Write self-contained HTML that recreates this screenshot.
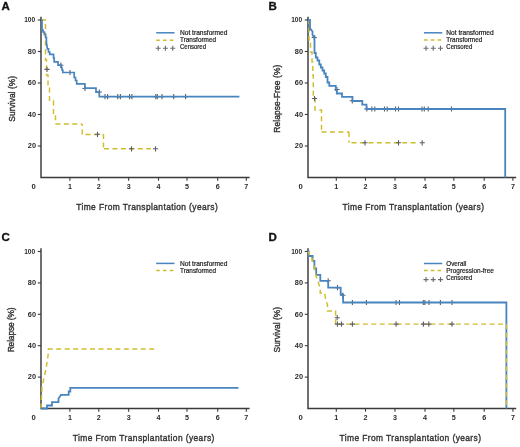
<!DOCTYPE html>
<html><head><meta charset="utf-8"><style>
html,body{margin:0;padding:0;background:#fff;width:520px;height:447px;overflow:hidden;}
svg{display:block;font-family:"Liberation Sans", sans-serif;will-change:transform;filter:blur(0.35px);}
</style></head><body>
<svg width="520" height="447" viewBox="0 0 520 447" font-family='"Liberation Sans", sans-serif'>
<rect width="520" height="447" fill="#fff"/>
<text transform="translate(1.5,10.2) scale(1.12,1)" font-size="10.3" font-weight="bold" fill="#111" stroke="#111" stroke-width="0.3">A</text>
<text transform="translate(268.6,10.2) scale(1.12,1)" font-size="10.3" font-weight="bold" fill="#111" stroke="#111" stroke-width="0.3">B</text>
<text transform="translate(1.5,241.3) scale(1.12,1)" font-size="10.3" font-weight="bold" fill="#111" stroke="#111" stroke-width="0.3">C</text>
<text transform="translate(268.6,241.3) scale(1.12,1)" font-size="10.3" font-weight="bold" fill="#111" stroke="#111" stroke-width="0.3">D</text>
<path d="M41,16.7V177.5H249.60" stroke="#3a3a3a" stroke-width="1.45" fill="none"/>
<path d="M37.8,146.00H41" stroke="#3a3a3a" stroke-width="1.1"/>
<text x="36.0" y="148.3" font-size="6.6" text-anchor="end" font-weight="bold" fill="#2a2a2a" textLength="8.2" lengthAdjust="spacingAndGlyphs" >20</text>
<path d="M37.8,114.50H41" stroke="#3a3a3a" stroke-width="1.1"/>
<text x="36.0" y="116.8" font-size="6.6" text-anchor="end" font-weight="bold" fill="#2a2a2a" textLength="8.2" lengthAdjust="spacingAndGlyphs" >40</text>
<path d="M37.8,83.00H41" stroke="#3a3a3a" stroke-width="1.1"/>
<text x="36.0" y="85.3" font-size="6.6" text-anchor="end" font-weight="bold" fill="#2a2a2a" textLength="8.2" lengthAdjust="spacingAndGlyphs" >60</text>
<path d="M37.8,51.50H41" stroke="#3a3a3a" stroke-width="1.1"/>
<text x="36.0" y="53.8" font-size="6.6" text-anchor="end" font-weight="bold" fill="#2a2a2a" textLength="8.2" lengthAdjust="spacingAndGlyphs" >80</text>
<path d="M37.8,20.00H41" stroke="#3a3a3a" stroke-width="1.1"/>
<text x="35.2" y="22.3" font-size="6.6" text-anchor="end" font-weight="bold" fill="#2a2a2a" textLength="11.0" lengthAdjust="spacingAndGlyphs" >100</text>
<path d="M69.90,177.5V180.7" stroke="#3a3a3a" stroke-width="1.1"/>
<text transform="translate(69.90,188.5) scale(1.12,1)" font-size="6.4" text-anchor="middle" font-weight="bold" fill="#2a2a2a">1</text>
<path d="M98.75,177.5V180.7" stroke="#3a3a3a" stroke-width="1.1"/>
<text transform="translate(98.75,188.5) scale(1.12,1)" font-size="6.4" text-anchor="middle" font-weight="bold" fill="#2a2a2a">2</text>
<path d="M128.65,177.5V180.7" stroke="#3a3a3a" stroke-width="1.1"/>
<text transform="translate(128.65,188.5) scale(1.12,1)" font-size="6.4" text-anchor="middle" font-weight="bold" fill="#2a2a2a">3</text>
<path d="M158.50,177.5V180.7" stroke="#3a3a3a" stroke-width="1.1"/>
<text transform="translate(158.50,188.5) scale(1.12,1)" font-size="6.4" text-anchor="middle" font-weight="bold" fill="#2a2a2a">4</text>
<path d="M187.00,177.5V180.7" stroke="#3a3a3a" stroke-width="1.1"/>
<text transform="translate(187.00,188.5) scale(1.12,1)" font-size="6.4" text-anchor="middle" font-weight="bold" fill="#2a2a2a">5</text>
<path d="M217.70,177.5V180.7" stroke="#3a3a3a" stroke-width="1.1"/>
<text transform="translate(217.70,188.5) scale(1.12,1)" font-size="6.4" text-anchor="middle" font-weight="bold" fill="#2a2a2a">6</text>
<path d="M246.30,177.5V180.7" stroke="#3a3a3a" stroke-width="1.1"/>
<text transform="translate(246.30,188.5) scale(1.12,1)" font-size="6.4" text-anchor="middle" font-weight="bold" fill="#2a2a2a">7</text>
<text transform="translate(33.50,188.5) scale(1.2,1)" font-size="6.4" text-anchor="middle" font-weight="bold" fill="#2a2a2a">0</text>
<text transform="translate(15.0,98.8) rotate(-90) scale(0.86,1)" x="0" y="0" font-size="9.8" text-anchor="middle" fill="#333" stroke="#333" stroke-width="0.4" textLength="53.14" lengthAdjust="spacing">Survival (%)</text>
<text transform="translate(76.2,210.3) scale(0.86,1)" font-size="9.8" fill="#333" stroke="#333" stroke-width="0.4" textLength="164.53" lengthAdjust="spacing">Time From Transplantation (years)</text>
<path d="M41,20H45.5V60H46.5V75H48V86H49.5V101H53.5V114H55.5V124" stroke="#d0bd2c" stroke-width="1.45" fill="none" stroke-dasharray="5,3.45" stroke-dashoffset="0.00"/>
<path d="M55.5,124H82.2" stroke="#d0bd2c" stroke-width="1.45" fill="none" stroke-dasharray="5,3.45" stroke-dashoffset="0.10"/>
<path d="M82.2,124V134.5" stroke="#d0bd2c" stroke-width="1.45" fill="none" stroke-dasharray="5,3.45" stroke-dashoffset="2.95"/>
<path d="M82.2,134.5H103.5" stroke="#d0bd2c" stroke-width="1.45" fill="none" stroke-dasharray="5,3.45" stroke-dashoffset="5.15"/>
<path d="M103.5,134.5V148.8" stroke="#d0bd2c" stroke-width="1.45" fill="none" stroke-dasharray="5,3.45" stroke-dashoffset="0.50"/>
<path d="M103.5,148.8H151" stroke="#d0bd2c" stroke-width="1.45" fill="none" stroke-dasharray="5,3.45" stroke-dashoffset="7.95"/>
<path d="M58.30,65.20H63.50M60.90,62.60V67.80" stroke="#5e5e66" stroke-width="1.1" fill="none"/>
<path d="M67.40,72.50H72.60M70.00,69.90V75.10" stroke="#5e5e66" stroke-width="1.1" fill="none"/>
<path d="M82.40,88.50H87.60M85.00,85.90V91.10" stroke="#5e5e66" stroke-width="1.1" fill="none"/>
<path d="M96.70,92.00H101.90M99.30,89.40V94.60" stroke="#5e5e66" stroke-width="1.1" fill="none"/>
<path d="M102.40,96.70H107.60M105.00,94.10V99.30" stroke="#5e5e66" stroke-width="1.1" fill="none"/>
<path d="M105.00,96.70H110.20M107.60,94.10V99.30" stroke="#5e5e66" stroke-width="1.1" fill="none"/>
<path d="M115.20,96.70H120.40M117.80,94.10V99.30" stroke="#5e5e66" stroke-width="1.1" fill="none"/>
<path d="M117.80,96.70H123.00M120.40,94.10V99.30" stroke="#5e5e66" stroke-width="1.1" fill="none"/>
<path d="M127.00,96.70H132.20M129.60,94.10V99.30" stroke="#5e5e66" stroke-width="1.1" fill="none"/>
<path d="M129.30,96.70H134.50M131.90,94.10V99.30" stroke="#5e5e66" stroke-width="1.1" fill="none"/>
<path d="M153.20,96.70H158.40M155.80,94.10V99.30" stroke="#5e5e66" stroke-width="1.1" fill="none"/>
<path d="M154.70,96.70H159.90M157.30,94.10V99.30" stroke="#5e5e66" stroke-width="1.1" fill="none"/>
<path d="M159.40,96.70H164.60M162.00,94.10V99.30" stroke="#5e5e66" stroke-width="1.1" fill="none"/>
<path d="M171.10,96.70H176.30M173.70,94.10V99.30" stroke="#5e5e66" stroke-width="1.1" fill="none"/>
<path d="M183.00,96.70H188.20M185.60,94.10V99.30" stroke="#5e5e66" stroke-width="1.1" fill="none"/>
<path d="M41,20H42V30H43V32H44.3V34.5H45.6V37.5H46.4V42L47.4,48.8H48.5V52H49.7V54.4H53.6V58H54.2V61.9H58V65.1H61.1V67.5H62V70H62.8V72.5H74.2V77.5H75.5V80.5H76.7V83.8H84.9V88.1H96V92.1H99.3V96.7H239.4" stroke="#4884be" stroke-width="1.7" fill="none"/>
<path d="M44.40,69.40H49.60M47.00,66.80V72.00" stroke="#5e5e66" stroke-width="1.1" fill="none"/>
<path d="M94.90,134.30H100.10M97.50,131.70V136.90" stroke="#5e5e66" stroke-width="1.1" fill="none"/>
<path d="M128.90,148.80H134.10M131.50,146.20V151.40" stroke="#5e5e66" stroke-width="1.1" fill="none"/>
<path d="M152.90,148.80H158.10M155.50,146.20V151.40" stroke="#5e5e66" stroke-width="1.1" fill="none"/>
<path d="M156.2,32.8H174.5" stroke="#4884be" stroke-width="1.5"/>
<text x="180.0" y="34.599999999999994" font-size="6.6" text-anchor="start" font-weight="normal" fill="#222" textLength="47.4" lengthAdjust="spacingAndGlyphs" stroke="#222" stroke-width="0.2">Not transformed</text>
<path d="M156.2,40.3H174.5" stroke="#d0bd2c" stroke-width="1.5" stroke-dasharray="3.6,3.2"/>
<text x="180.0" y="41.9" font-size="6.6" text-anchor="start" font-weight="normal" fill="#222" textLength="36" lengthAdjust="spacingAndGlyphs" stroke="#222" stroke-width="0.2">Transformed</text>
<path d="M155.70,48.20H160.70M158.20,45.70V50.70" stroke="#6a6a72" stroke-width="1.1" fill="none"/>
<path d="M162.90,48.20H167.90M165.40,45.70V50.70" stroke="#6a6a72" stroke-width="1.1" fill="none"/>
<path d="M170.20,48.20H175.20M172.70,45.70V50.70" stroke="#6a6a72" stroke-width="1.1" fill="none"/>
<text x="180.0" y="48.8" font-size="6.6" text-anchor="start" font-weight="normal" fill="#222" textLength="26" lengthAdjust="spacingAndGlyphs" stroke="#222" stroke-width="0.2">Censored</text>
<path d="M308,16.7V177.5H516.20" stroke="#3a3a3a" stroke-width="1.45" fill="none"/>
<path d="M304.8,146.00H308" stroke="#3a3a3a" stroke-width="1.1"/>
<text x="303.0" y="148.3" font-size="6.6" text-anchor="end" font-weight="bold" fill="#2a2a2a" textLength="8.2" lengthAdjust="spacingAndGlyphs" >20</text>
<path d="M304.8,114.50H308" stroke="#3a3a3a" stroke-width="1.1"/>
<text x="303.0" y="116.8" font-size="6.6" text-anchor="end" font-weight="bold" fill="#2a2a2a" textLength="8.2" lengthAdjust="spacingAndGlyphs" >40</text>
<path d="M304.8,83.00H308" stroke="#3a3a3a" stroke-width="1.1"/>
<text x="303.0" y="85.3" font-size="6.6" text-anchor="end" font-weight="bold" fill="#2a2a2a" textLength="8.2" lengthAdjust="spacingAndGlyphs" >60</text>
<path d="M304.8,51.50H308" stroke="#3a3a3a" stroke-width="1.1"/>
<text x="303.0" y="53.8" font-size="6.6" text-anchor="end" font-weight="bold" fill="#2a2a2a" textLength="8.2" lengthAdjust="spacingAndGlyphs" >80</text>
<path d="M304.8,20.00H308" stroke="#3a3a3a" stroke-width="1.1"/>
<text x="302.2" y="22.3" font-size="6.6" text-anchor="end" font-weight="bold" fill="#2a2a2a" textLength="11.0" lengthAdjust="spacingAndGlyphs" >100</text>
<path d="M336.30,177.5V180.7" stroke="#3a3a3a" stroke-width="1.1"/>
<text transform="translate(336.30,188.5) scale(1.12,1)" font-size="6.4" text-anchor="middle" font-weight="bold" fill="#2a2a2a">1</text>
<path d="M365.50,177.5V180.7" stroke="#3a3a3a" stroke-width="1.1"/>
<text transform="translate(365.50,188.5) scale(1.12,1)" font-size="6.4" text-anchor="middle" font-weight="bold" fill="#2a2a2a">2</text>
<path d="M395.00,177.5V180.7" stroke="#3a3a3a" stroke-width="1.1"/>
<text transform="translate(395.00,188.5) scale(1.12,1)" font-size="6.4" text-anchor="middle" font-weight="bold" fill="#2a2a2a">3</text>
<path d="M425.00,177.5V180.7" stroke="#3a3a3a" stroke-width="1.1"/>
<text transform="translate(425.00,188.5) scale(1.12,1)" font-size="6.4" text-anchor="middle" font-weight="bold" fill="#2a2a2a">4</text>
<path d="M453.85,177.5V180.7" stroke="#3a3a3a" stroke-width="1.1"/>
<text transform="translate(453.85,188.5) scale(1.12,1)" font-size="6.4" text-anchor="middle" font-weight="bold" fill="#2a2a2a">5</text>
<path d="M484.20,177.5V180.7" stroke="#3a3a3a" stroke-width="1.1"/>
<text transform="translate(484.20,188.5) scale(1.12,1)" font-size="6.4" text-anchor="middle" font-weight="bold" fill="#2a2a2a">6</text>
<path d="M512.90,177.5V180.7" stroke="#3a3a3a" stroke-width="1.1"/>
<text transform="translate(512.90,188.5) scale(1.12,1)" font-size="6.4" text-anchor="middle" font-weight="bold" fill="#2a2a2a">7</text>
<text transform="translate(300.50,188.5) scale(1.2,1)" font-size="6.4" text-anchor="middle" font-weight="bold" fill="#2a2a2a">0</text>
<text transform="translate(279.5,98.7) rotate(-90) scale(0.86,1)" x="0" y="0" font-size="9.8" text-anchor="middle" fill="#333" stroke="#333" stroke-width="0.4" textLength="79.07" lengthAdjust="spacing">Relapse-Free (%)</text>
<text transform="translate(342.5,210.1) scale(0.86,1)" font-size="9.8" fill="#333" stroke="#333" stroke-width="0.4" textLength="164.53" lengthAdjust="spacing">Time From Transplantation (years)</text>
<path d="M308,20H309V40H310.5V52H312V62H312.8V75H313.3V98H315V110H321.5V132" stroke="#d0bd2c" stroke-width="1.45" fill="none" stroke-dasharray="5,3.45" stroke-dashoffset="0.00"/>
<path d="M321.5,132H349" stroke="#d0bd2c" stroke-width="1.45" fill="none" stroke-dasharray="5,3.45" stroke-dashoffset="0.00"/>
<path d="M349,132V142.8" stroke="#d0bd2c" stroke-width="1.45" fill="none" stroke-dasharray="5,3.45" stroke-dashoffset="0.00"/>
<path d="M349,142.8H417" stroke="#d0bd2c" stroke-width="1.45" fill="none" stroke-dasharray="5,3.45" stroke-dashoffset="5.95"/>
<path d="M311.70,37.50H316.90M314.30,34.90V40.10" stroke="#5e5e66" stroke-width="1.1" fill="none"/>
<path d="M334.40,89.50H339.60M337.00,86.90V92.10" stroke="#5e5e66" stroke-width="1.1" fill="none"/>
<path d="M349.70,100.80H354.90M352.30,98.20V103.40" stroke="#5e5e66" stroke-width="1.1" fill="none"/>
<path d="M364.20,109.00H369.40M366.80,106.40V111.60" stroke="#5e5e66" stroke-width="1.1" fill="none"/>
<path d="M369.20,109.00H374.40M371.80,106.40V111.60" stroke="#5e5e66" stroke-width="1.1" fill="none"/>
<path d="M372.20,109.00H377.40M374.80,106.40V111.60" stroke="#5e5e66" stroke-width="1.1" fill="none"/>
<path d="M381.90,109.00H387.10M384.50,106.40V111.60" stroke="#5e5e66" stroke-width="1.1" fill="none"/>
<path d="M384.60,109.00H389.80M387.20,106.40V111.60" stroke="#5e5e66" stroke-width="1.1" fill="none"/>
<path d="M392.90,109.00H398.10M395.50,106.40V111.60" stroke="#5e5e66" stroke-width="1.1" fill="none"/>
<path d="M395.90,109.00H401.10M398.50,106.40V111.60" stroke="#5e5e66" stroke-width="1.1" fill="none"/>
<path d="M419.40,109.00H424.60M422.00,106.40V111.60" stroke="#5e5e66" stroke-width="1.1" fill="none"/>
<path d="M421.70,109.00H426.90M424.30,106.40V111.60" stroke="#5e5e66" stroke-width="1.1" fill="none"/>
<path d="M425.60,109.00H430.80M428.20,106.40V111.60" stroke="#5e5e66" stroke-width="1.1" fill="none"/>
<path d="M448.90,109.00H454.10M451.50,106.40V111.60" stroke="#5e5e66" stroke-width="1.1" fill="none"/>
<path d="M308,20H310V29.5H311L312.5,31.5V35L313.5,36.5H314.5V53H315.8V57.5H317.5V60.5H319.3V64.5H320.8V67.5H322.5V70.5H324.2V73.5H325.8V77H327.5V82.5H329.3V85.8H335.8V90H336.8V93.5H342V96.8H352.5V101H362.3V104.7H366.5V109H505.2V177.5" stroke="#4884be" stroke-width="1.8" fill="none"/>
<path d="M311.90,98.50H317.10M314.50,95.90V101.10" stroke="#5e5e66" stroke-width="1.1" fill="none"/>
<path d="M362.40,142.80H367.60M365.00,140.20V145.40" stroke="#5e5e66" stroke-width="1.1" fill="none"/>
<path d="M395.90,142.80H401.10M398.50,140.20V145.40" stroke="#5e5e66" stroke-width="1.1" fill="none"/>
<path d="M419.60,142.80H424.80M422.20,140.20V145.40" stroke="#5e5e66" stroke-width="1.1" fill="none"/>
<path d="M424,32.8H442.3" stroke="#4884be" stroke-width="1.5"/>
<text x="446.3" y="34.599999999999994" font-size="6.6" text-anchor="start" font-weight="normal" fill="#222" textLength="47.4" lengthAdjust="spacingAndGlyphs" stroke="#222" stroke-width="0.2">Not transformed</text>
<path d="M424,40.099999999999994H442.3" stroke="#d0bd2c" stroke-width="1.5" stroke-dasharray="3.6,3.2"/>
<text x="446.3" y="41.699999999999996" font-size="6.6" text-anchor="start" font-weight="normal" fill="#222" textLength="36" lengthAdjust="spacingAndGlyphs" stroke="#222" stroke-width="0.2">Transformed</text>
<path d="M423.50,48.30H428.50M426.00,45.80V50.80" stroke="#6a6a72" stroke-width="1.1" fill="none"/>
<path d="M430.70,48.30H435.70M433.20,45.80V50.80" stroke="#6a6a72" stroke-width="1.1" fill="none"/>
<path d="M438.00,48.30H443.00M440.50,45.80V50.80" stroke="#6a6a72" stroke-width="1.1" fill="none"/>
<text x="446.3" y="48.5" font-size="6.6" text-anchor="start" font-weight="normal" fill="#222" textLength="26" lengthAdjust="spacingAndGlyphs" stroke="#222" stroke-width="0.2">Censored</text>
<path d="M41,248.2V408.5H249.60" stroke="#3a3a3a" stroke-width="1.45" fill="none"/>
<path d="M37.8,377.10H41" stroke="#3a3a3a" stroke-width="1.1"/>
<text x="36.0" y="379.40000000000003" font-size="6.6" text-anchor="end" font-weight="bold" fill="#2a2a2a" textLength="8.2" lengthAdjust="spacingAndGlyphs" >20</text>
<path d="M37.8,345.70H41" stroke="#3a3a3a" stroke-width="1.1"/>
<text x="36.0" y="348.0" font-size="6.6" text-anchor="end" font-weight="bold" fill="#2a2a2a" textLength="8.2" lengthAdjust="spacingAndGlyphs" >40</text>
<path d="M37.8,314.30H41" stroke="#3a3a3a" stroke-width="1.1"/>
<text x="36.0" y="316.6" font-size="6.6" text-anchor="end" font-weight="bold" fill="#2a2a2a" textLength="8.2" lengthAdjust="spacingAndGlyphs" >60</text>
<path d="M37.8,282.90H41" stroke="#3a3a3a" stroke-width="1.1"/>
<text x="36.0" y="285.2" font-size="6.6" text-anchor="end" font-weight="bold" fill="#2a2a2a" textLength="8.2" lengthAdjust="spacingAndGlyphs" >80</text>
<path d="M37.8,251.50H41" stroke="#3a3a3a" stroke-width="1.1"/>
<text x="35.2" y="253.8" font-size="6.6" text-anchor="end" font-weight="bold" fill="#2a2a2a" textLength="11.0" lengthAdjust="spacingAndGlyphs" >100</text>
<path d="M69.90,408.5V411.7" stroke="#3a3a3a" stroke-width="1.1"/>
<text transform="translate(69.90,419.5) scale(1.12,1)" font-size="6.4" text-anchor="middle" font-weight="bold" fill="#2a2a2a">1</text>
<path d="M98.75,408.5V411.7" stroke="#3a3a3a" stroke-width="1.1"/>
<text transform="translate(98.75,419.5) scale(1.12,1)" font-size="6.4" text-anchor="middle" font-weight="bold" fill="#2a2a2a">2</text>
<path d="M128.65,408.5V411.7" stroke="#3a3a3a" stroke-width="1.1"/>
<text transform="translate(128.65,419.5) scale(1.12,1)" font-size="6.4" text-anchor="middle" font-weight="bold" fill="#2a2a2a">3</text>
<path d="M158.50,408.5V411.7" stroke="#3a3a3a" stroke-width="1.1"/>
<text transform="translate(158.50,419.5) scale(1.12,1)" font-size="6.4" text-anchor="middle" font-weight="bold" fill="#2a2a2a">4</text>
<path d="M187.00,408.5V411.7" stroke="#3a3a3a" stroke-width="1.1"/>
<text transform="translate(187.00,419.5) scale(1.12,1)" font-size="6.4" text-anchor="middle" font-weight="bold" fill="#2a2a2a">5</text>
<path d="M217.70,408.5V411.7" stroke="#3a3a3a" stroke-width="1.1"/>
<text transform="translate(217.70,419.5) scale(1.12,1)" font-size="6.4" text-anchor="middle" font-weight="bold" fill="#2a2a2a">6</text>
<path d="M246.30,408.5V411.7" stroke="#3a3a3a" stroke-width="1.1"/>
<text transform="translate(246.30,419.5) scale(1.12,1)" font-size="6.4" text-anchor="middle" font-weight="bold" fill="#2a2a2a">7</text>
<text transform="translate(33.50,419.5) scale(1.2,1)" font-size="6.4" text-anchor="middle" font-weight="bold" fill="#2a2a2a">0</text>
<text transform="translate(14.2,329.9) rotate(-90) scale(0.86,1)" x="0" y="0" font-size="9.8" text-anchor="middle" fill="#333" stroke="#333" stroke-width="0.4" textLength="52.21" lengthAdjust="spacing">Relapse (%)</text>
<text transform="translate(72.8,441.4) scale(0.86,1)" font-size="9.8" fill="#333" stroke="#333" stroke-width="0.4" textLength="164.53" lengthAdjust="spacing">Time From Transplantation (years)</text>
<path d="M41,408.5L42,386.7L46,369L48,356L48.5,348.9" stroke="#d0bd2c" stroke-width="1.45" fill="none" stroke-dasharray="5,3.45" stroke-dashoffset="0.00"/>
<path d="M47.8,348.9H154.2" stroke="#d0bd2c" stroke-width="1.45" fill="none" stroke-dasharray="5,3.45" stroke-dashoffset="0.00"/>
<path d="M41,408.5H47V405.5H52V402.2H58.5V398.5L61,395V394.8H68.7V391.5H70.3V387.8H238.4" stroke="#4884be" stroke-width="1.8" fill="none"/>
<path d="M156.2,263.4H174.5" stroke="#4884be" stroke-width="1.5"/>
<text x="180.0" y="265.79999999999995" font-size="6.6" text-anchor="start" font-weight="normal" fill="#222" textLength="47.4" lengthAdjust="spacingAndGlyphs" stroke="#222" stroke-width="0.2">Not transformed</text>
<path d="M156.2,270.4H174.5" stroke="#d0bd2c" stroke-width="1.5" stroke-dasharray="3.6,3.2"/>
<text x="180.0" y="272.59999999999997" font-size="6.6" text-anchor="start" font-weight="normal" fill="#222" textLength="36" lengthAdjust="spacingAndGlyphs" stroke="#222" stroke-width="0.2">Transformed</text>
<path d="M308,248.2V408.5H516.20" stroke="#3a3a3a" stroke-width="1.45" fill="none"/>
<path d="M304.8,377.10H308" stroke="#3a3a3a" stroke-width="1.1"/>
<text x="303.0" y="379.40000000000003" font-size="6.6" text-anchor="end" font-weight="bold" fill="#2a2a2a" textLength="8.2" lengthAdjust="spacingAndGlyphs" >20</text>
<path d="M304.8,345.70H308" stroke="#3a3a3a" stroke-width="1.1"/>
<text x="303.0" y="348.0" font-size="6.6" text-anchor="end" font-weight="bold" fill="#2a2a2a" textLength="8.2" lengthAdjust="spacingAndGlyphs" >40</text>
<path d="M304.8,314.30H308" stroke="#3a3a3a" stroke-width="1.1"/>
<text x="303.0" y="316.6" font-size="6.6" text-anchor="end" font-weight="bold" fill="#2a2a2a" textLength="8.2" lengthAdjust="spacingAndGlyphs" >60</text>
<path d="M304.8,282.90H308" stroke="#3a3a3a" stroke-width="1.1"/>
<text x="303.0" y="285.2" font-size="6.6" text-anchor="end" font-weight="bold" fill="#2a2a2a" textLength="8.2" lengthAdjust="spacingAndGlyphs" >80</text>
<path d="M304.8,251.50H308" stroke="#3a3a3a" stroke-width="1.1"/>
<text x="302.2" y="253.8" font-size="6.6" text-anchor="end" font-weight="bold" fill="#2a2a2a" textLength="11.0" lengthAdjust="spacingAndGlyphs" >100</text>
<path d="M336.30,408.5V411.7" stroke="#3a3a3a" stroke-width="1.1"/>
<text transform="translate(336.30,419.5) scale(1.12,1)" font-size="6.4" text-anchor="middle" font-weight="bold" fill="#2a2a2a">1</text>
<path d="M365.50,408.5V411.7" stroke="#3a3a3a" stroke-width="1.1"/>
<text transform="translate(365.50,419.5) scale(1.12,1)" font-size="6.4" text-anchor="middle" font-weight="bold" fill="#2a2a2a">2</text>
<path d="M395.00,408.5V411.7" stroke="#3a3a3a" stroke-width="1.1"/>
<text transform="translate(395.00,419.5) scale(1.12,1)" font-size="6.4" text-anchor="middle" font-weight="bold" fill="#2a2a2a">3</text>
<path d="M425.00,408.5V411.7" stroke="#3a3a3a" stroke-width="1.1"/>
<text transform="translate(425.00,419.5) scale(1.12,1)" font-size="6.4" text-anchor="middle" font-weight="bold" fill="#2a2a2a">4</text>
<path d="M453.85,408.5V411.7" stroke="#3a3a3a" stroke-width="1.1"/>
<text transform="translate(453.85,419.5) scale(1.12,1)" font-size="6.4" text-anchor="middle" font-weight="bold" fill="#2a2a2a">5</text>
<path d="M484.20,408.5V411.7" stroke="#3a3a3a" stroke-width="1.1"/>
<text transform="translate(484.20,419.5) scale(1.12,1)" font-size="6.4" text-anchor="middle" font-weight="bold" fill="#2a2a2a">6</text>
<path d="M512.90,408.5V411.7" stroke="#3a3a3a" stroke-width="1.1"/>
<text transform="translate(512.90,419.5) scale(1.12,1)" font-size="6.4" text-anchor="middle" font-weight="bold" fill="#2a2a2a">7</text>
<text transform="translate(300.50,419.5) scale(1.2,1)" font-size="6.4" text-anchor="middle" font-weight="bold" fill="#2a2a2a">0</text>
<text transform="translate(280.3,329.7) rotate(-90) scale(0.86,1)" x="0" y="0" font-size="9.8" text-anchor="middle" fill="#333" stroke="#333" stroke-width="0.4" textLength="53.02" lengthAdjust="spacing">Survival (%)</text>
<text transform="translate(339.5,441.1) scale(0.86,1)" font-size="9.8" fill="#333" stroke="#333" stroke-width="0.4" textLength="164.53" lengthAdjust="spacing">Time From Transplantation (years)</text>
<path d="M325.60,280.80H330.80M328.20,278.20V283.40" stroke="#5e5e66" stroke-width="1.1" fill="none"/>
<path d="M334.90,287.70H340.10M337.50,285.10V290.30" stroke="#5e5e66" stroke-width="1.1" fill="none"/>
<path d="M340.20,295.30H345.40M342.80,292.70V297.90" stroke="#5e5e66" stroke-width="1.1" fill="none"/>
<path d="M349.80,302.50H355.00M352.40,299.90V305.10" stroke="#5e5e66" stroke-width="1.1" fill="none"/>
<path d="M363.80,302.50H369.00M366.40,299.90V305.10" stroke="#5e5e66" stroke-width="1.1" fill="none"/>
<path d="M393.40,302.50H398.60M396.00,299.90V305.10" stroke="#5e5e66" stroke-width="1.1" fill="none"/>
<path d="M396.90,302.50H402.10M399.50,299.90V305.10" stroke="#5e5e66" stroke-width="1.1" fill="none"/>
<path d="M420.70,302.50H425.90M423.30,299.90V305.10" stroke="#5e5e66" stroke-width="1.1" fill="none"/>
<path d="M422.20,302.50H427.40M424.80,299.90V305.10" stroke="#5e5e66" stroke-width="1.1" fill="none"/>
<path d="M426.40,302.50H431.60M429.00,299.90V305.10" stroke="#5e5e66" stroke-width="1.1" fill="none"/>
<path d="M437.80,302.50H443.00M440.40,299.90V305.10" stroke="#5e5e66" stroke-width="1.1" fill="none"/>
<path d="M449.40,302.50H454.60M452.00,299.90V305.10" stroke="#5e5e66" stroke-width="1.1" fill="none"/>
<path d="M308,251.5H308.7V256H312.6V261H314.4V268.5H316.2V274.9H320.3V280.8H328.2V287.7H340.7V294.5H343.1V302.5H506.4V408.5" stroke="#4884be" stroke-width="1.8" fill="none"/>
<path d="M308,251.5L310,256.5H311.2L313.3,263L314.7,269.5L316.4,277L318.5,283L320.2,288V293H324.6L325.6,299L327.5,305V311H335.6V324.1" stroke="#d0bd2c" stroke-width="1.45" fill="none" stroke-dasharray="5,3.45" stroke-dashoffset="1.00"/>
<path d="M335.6,324.1H506.4" stroke="#d0bd2c" stroke-width="1.45" fill="none" stroke-dasharray="5,3.45" stroke-dashoffset="6.55"/>
<path d="M506.4,324.1V408.5" stroke="#d0bd2c" stroke-width="1.45" fill="none" stroke-dasharray="5,3.45" stroke-dashoffset="0.00"/>
<path d="M334.60,317.70H339.80M337.20,315.10V320.30" stroke="#5e5e66" stroke-width="1.1" fill="none"/>
<path d="M334.80,324.10H340.00M337.40,321.50V326.70" stroke="#5e5e66" stroke-width="1.1" fill="none"/>
<path d="M338.90,324.10H344.10M341.50,321.50V326.70" stroke="#5e5e66" stroke-width="1.1" fill="none"/>
<path d="M349.80,324.10H355.00M352.40,321.50V326.70" stroke="#5e5e66" stroke-width="1.1" fill="none"/>
<path d="M393.50,324.10H398.70M396.10,321.50V326.70" stroke="#5e5e66" stroke-width="1.1" fill="none"/>
<path d="M420.80,324.10H426.00M423.40,321.50V326.70" stroke="#5e5e66" stroke-width="1.1" fill="none"/>
<path d="M426.20,324.10H431.40M428.80,321.50V326.70" stroke="#5e5e66" stroke-width="1.1" fill="none"/>
<path d="M449.40,324.10H454.60M452.00,321.50V326.70" stroke="#5e5e66" stroke-width="1.1" fill="none"/>
<path d="M424,263.5H442.3" stroke="#4884be" stroke-width="1.5"/>
<text x="446.3" y="265.8" font-size="6.6" text-anchor="start" font-weight="normal" fill="#222" textLength="20" lengthAdjust="spacingAndGlyphs" stroke="#222" stroke-width="0.2">Overall</text>
<path d="M424,270.4H442.3" stroke="#d0bd2c" stroke-width="1.5" stroke-dasharray="3.6,3.2"/>
<text x="446.3" y="272.7" font-size="6.6" text-anchor="start" font-weight="normal" fill="#222" textLength="47.6" lengthAdjust="spacingAndGlyphs" stroke="#222" stroke-width="0.2">Progression-free</text>
<path d="M423.50,279.60H428.50M426.00,277.10V282.10" stroke="#6a6a72" stroke-width="1.1" fill="none"/>
<path d="M430.70,279.60H435.70M433.20,277.10V282.10" stroke="#6a6a72" stroke-width="1.1" fill="none"/>
<path d="M438.00,279.60H443.00M440.50,277.10V282.10" stroke="#6a6a72" stroke-width="1.1" fill="none"/>
<text x="446.3" y="279.7" font-size="6.6" text-anchor="start" font-weight="normal" fill="#222" textLength="26" lengthAdjust="spacingAndGlyphs" stroke="#222" stroke-width="0.2">Censored</text>
</svg>
</body></html>
